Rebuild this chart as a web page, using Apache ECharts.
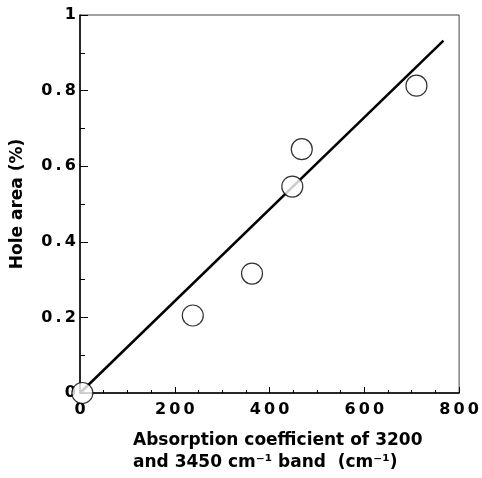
<!DOCTYPE html>
<html>
<head>
<meta charset="utf-8">
<script src="https://cdn.jsdelivr.net/npm/echarts@6/dist/echarts.min.js"></script>
<style>
  html, body { margin: 0; padding: 0; background: #fff; }
  #main { width: 482px; height: 478px; }
</style>
</head>
<body>
<div id="main"></div>
<script>
// measured points (absorption coefficient, hole area)
var absorption = [5, 238, 363, 448, 468, 710]
var holeArea = [0, 0.205, 0.316, 0.546, 0.645, 0.813]
// fitted straight line, end points
var fitX = [0, 767]
var fitY = [0, 0.932]

var font = 'DejaVu Sans'
var spaced = function (s) { return String(s).split('').join('\u2009') }

var chartDom = document.getElementById('main')
var myChart = echarts.init(chartDom)
var option = {
  animation: false,
  grid: {
    left: 80, right: 21, top: 15, bottom: 85,
    show: true, borderColor: '#444', borderWidth: 1
  },
  xAxis: {
    type: 'value',
    min: 0, max: 800, interval: 200,
    axisLine: { lineStyle: { color: '#000', width: 1.5 } },
    axisTick: { inside: true, length: 6, lineStyle: { color: '#000' } },
    minorTick: { show: true, splitNumber: 4, length: 3, lineStyle: { color: '#000' } },
    splitLine: { show: false },
    axisLabel: {
      margin: 9, color: '#000', fontFamily: font, fontWeight: 'bold', fontSize: 16,
      formatter: function (v) { return spaced(v) }
    }
  },
  yAxis: {
    type: 'value',
    min: 0, max: 1, interval: 0.2,
    name: 'Hole area (%)',
    nameLocation: 'middle',
    nameGap: 54,
    nameTextStyle: { color: '#000', fontFamily: font, fontWeight: 'bold', fontSize: 17 },
    axisLine: { lineStyle: { color: '#000', width: 1.5 } },
    axisTick: { inside: true, length: 8, lineStyle: { color: '#000' } },
    minorTick: { show: true, splitNumber: 2, length: 5, lineStyle: { color: '#000' } },
    splitLine: { show: false },
    axisLabel: {
      margin: 4, color: '#000', fontFamily: font, fontWeight: 'bold', fontSize: 16,
      formatter: function (v) {
        if (v === 0) return '0'
        if (v === 1) return '1'
        return spaced(v.toFixed(1))
      }
    }
  },
  graphic: [
    {
      type: 'text',
      left: 133,
      top: 430,
      style: {
        text: 'Absorption coefficient of 3200\nand 3450 cm\u207B\u00B9 band  (cm\u207B\u00B9)',
        fill: '#000',
        font: 'bold 17px "DejaVu Sans"',
        lineHeight: 22
      }
    }
  ],
  series: [
    {
      type: 'line',
      data: fitX.map(function (x, i) { return [x, fitY[i]] }),
      symbol: 'none',
      lineStyle: { color: '#000', width: 2.5 },
      z: 2
    },
    {
      type: 'scatter',
      data: absorption.map(function (x, i) { return [x, holeArea[i]] }),
      symbol: 'circle',
      symbolSize: 21,
      clip: false,
      itemStyle: { color: '#fff', borderColor: '#000', borderWidth: 1.2 },
      z: 3
    }
  ]
}
option && myChart.setOption(option)
</script>
</body>
</html>
